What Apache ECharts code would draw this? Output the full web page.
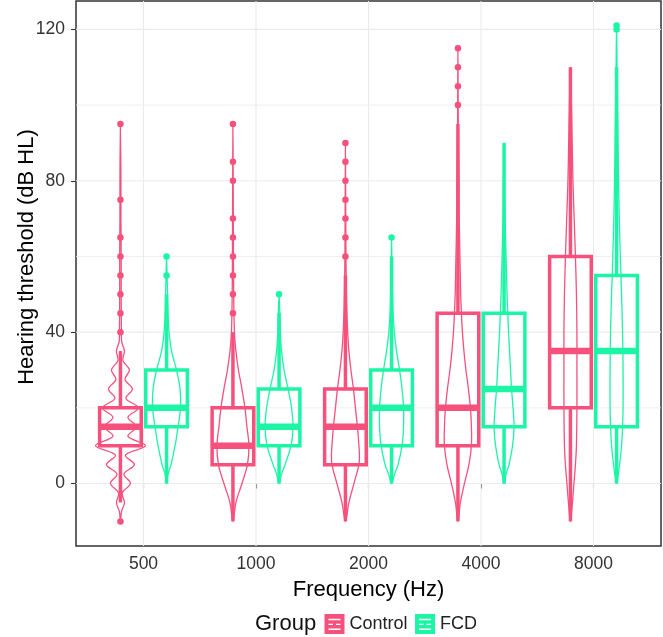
<!DOCTYPE html>
<html>
<head>
<meta charset="utf-8">
<script src="https://cdn.jsdelivr.net/npm/echarts@6/dist/echarts.min.js"></script>
<style>html,body{margin:0;padding:0;background:#fff}#c{width:663px;height:637px}</style>
</head>
<body>
<div id="c"></div>
<script>
// ---------- data ----------
const FREQS = ['500', '1000', '2000', '4000', '8000'];
const GROUPS = ['Control', 'FCD'];

// box stats: [lower whisker, Q1, median, Q3, upper whisker]
const CONTROL_BOX = [[-5, 10, 15, 20, 35], [-10, 5, 10, 20, 40], [-10, 5, 15, 25, 55], [-10, 10, 20, 45, 95], [-10, 20, 35, 60, 110]];
const FCD_BOX = [[0, 15, 20, 30, 50], [0, 10, 15, 25, 45], [0, 10, 20, 30, 60], [0, 15, 25, 45, 90], [0, 15, 35, 55, 110]];

const CONTROL_OUTLIERS = [[-10, 40, 45, 50, 55, 60, 65, 75, 95], [45, 50, 55, 60, 65, 70, 80, 85, 95], [60, 65, 70, 75, 80, 85, 90], [100, 105, 110, 115], []];
const FCD_OUTLIERS = [[55, 60], [50], [65], [], [120, 121]];

// violin outlines: [threshold dB, relative density]
const CONTROL_VIOLIN = [
  [[-10,0],[-7.5,0.04],[-5,0.16],[-2.5,0.07],[0,0.4],[2.5,0.14],[5,0.56],[7.5,0.2],[10,1],[12.5,0.3],[15,0.64],[17.5,0.3],[20,0.72],[22.5,0.22],[25,0.48],[27.5,0.18],[30,0.36],[32.5,0.1],[35,0.16],[37.5,0.05],[40,0.04],[50,0.03],[60,0.03],[70,0.02],[80,0.02],[95,0]],
  [[-10,0],[-5,0.12],[0,0.36],[5,0.58],[10,0.64],[15,0.56],[20,0.48],[25,0.36],[30,0.22],[35,0.12],[40,0.06],[50,0.03],[60,0.02],[70,0.015],[80,0.01],[95,0]],
  [[-10,0],[-5,0.14],[0,0.34],[5,0.54],[7.5,0.56],[10,0.54],[15,0.48],[20,0.4],[25,0.32],[30,0.22],[35,0.14],[40,0.09],[45,0.06],[50,0.04],[55,0.03],[60,0.02],[75,0.01],[90,0]],
  [[-10,0],[-5,0.1],[0,0.26],[5,0.44],[10,0.54],[15,0.54],[20,0.5],[25,0.42],[30,0.32],[35,0.24],[40,0.18],[45,0.14],[50,0.11],[60,0.08],[70,0.05],[80,0.04],[90,0.02],[100,0.01],[115,0]],
  [[-10,0],[-5,0.08],[0,0.14],[5,0.2],[10,0.24],[20,0.26],[30,0.26],[40,0.26],[50,0.24],[60,0.2],[70,0.15],[80,0.1],[90,0.07],[100,0.04],[110,0]]
];
const FCD_VIOLIN = [
  [[0,0],[2.5,0.06],[5,0.18],[10,0.34],[15,0.46],[20,0.56],[25,0.54],[30,0.4],[35,0.2],[40,0.1],[45,0.06],[50,0.04],[55,0.02],[60,0]],
  [[0,0],[2.5,0.1],[5,0.24],[10,0.48],[15,0.56],[20,0.5],[25,0.36],[30,0.2],[35,0.1],[40,0.05],[45,0.03],[50,0]],
  [[0,0],[2.5,0.12],[5,0.26],[10,0.42],[15,0.48],[20,0.48],[25,0.42],[30,0.32],[35,0.2],[40,0.11],[45,0.06],[50,0.04],[55,0.02],[60,0.01],[65,0]],
  [[0,0],[2.5,0.08],[5,0.2],[10,0.34],[15,0.4],[20,0.36],[25,0.3],[30,0.26],[35,0.22],[40,0.18],[45,0.15],[50,0.12],[60,0.08],[70,0.04],[80,0.02],[90,0]],
  [[0,0],[5,0.12],[10,0.2],[15,0.24],[20,0.26],[30,0.26],[40,0.24],[50,0.2],[60,0.15],[70,0.11],[80,0.08],[90,0.06],[100,0.04],[110,0.02],[121,0]]
];

const Y_MAJOR = [0, 40, 80, 120];
const Y_MINOR = [20, 60, 100];

// ---------- styling / layout constants ----------
const COLORS = { Control: '#F6517C', FCD: '#1CF4A6' };
const DODGE = 0.205;       // category units
const BOX_HALF = 0.185;    // category units
const VIOLIN_HALF = 0.222; // category units at density 1
const FONT = "'Liberation Sans', Arial, Helvetica, sans-serif";

function makeRender(boxes, violins, color) {
  return function (params, api) {
    const i = params.dataIndex;
    const cx = api.value(0);
    const unit = api.size([1, 0])[0];
    const center = api.coord([cx, 0])[0];
    const Y = v => api.coord([cx, v])[1];
    const vMax = VIOLIN_HALF * unit;
    const hb = BOX_HALF * unit;
    const vio = violins[i];
    const pts = [];
    vio.forEach(p => pts.push([center + p[1] * vMax, Y(p[0])]));
    for (let k = vio.length - 1; k >= 0; k--) {
      if (vio[k][1] > 0) pts.push([center - vio[k][1] * vMax, Y(vio[k][0])]);
    }
    const b = boxes[i];
    return {
      type: 'group',
      children: [
        { type: 'polygon', shape: { points: pts, smooth: 0.35 }, style: { fill: 'none', stroke: color, lineWidth: 1.3 } },
        { type: 'line', shape: { x1: center, y1: Y(b[3]), x2: center, y2: Y(b[4]) }, style: { stroke: color, lineWidth: 3.5 } },
        { type: 'line', shape: { x1: center, y1: Y(b[1]), x2: center, y2: Y(b[0]) }, style: { stroke: color, lineWidth: 3.5 } },
        { type: 'rect', shape: { x: center - hb, y: Y(b[3]), width: 2 * hb, height: Y(b[1]) - Y(b[3]) }, style: { fill: 'none', stroke: color, lineWidth: 3.5 } },
        { type: 'line', shape: { x1: center - hb, y1: Y(b[2]), x2: center + hb, y2: Y(b[2]) }, style: { stroke: color, lineWidth: 6.5 } }
      ]
    };
  };
}

function gridRender(horizontal) {
  return function (params, api) {
    const cs = params.coordSys;
    const v = api.value(0);
    const w = api.value(1);
    if (horizontal) {
      const y = api.coord([1, v])[1];
      return { type: 'line', shape: { x1: cs.x, y1: y, x2: cs.x + cs.width, y2: y }, style: { stroke: '#EBEBEB', lineWidth: w } };
    }
    const x = api.coord([v, 0])[0];
    return { type: 'line', shape: { x1: x, y1: cs.y, x2: x, y2: cs.y + cs.height }, style: { stroke: '#EBEBEB', lineWidth: w } };
  };
}

const series = [
  { type: 'custom', name: '_hgrid', silent: true, z: 1, renderItem: gridRender(true),
    data: Y_MAJOR.map(v => [v, 1.1]).concat(Y_MINOR.map(v => [v, 0.8])) },
  { type: 'custom', name: '_vgrid', silent: true, z: 1, renderItem: gridRender(false),
    data: FREQS.map((f, i) => [i + 1, 1.1]) }
];

[[CONTROL_BOX, CONTROL_VIOLIN, CONTROL_OUTLIERS, -DODGE, 'Control'], [FCD_BOX, FCD_VIOLIN, FCD_OUTLIERS, DODGE, 'FCD']].forEach(g => {
  const [boxes, violins, outs, off, name] = g;
  series.push({
    type: 'custom', name, z: 3, silent: true,
    itemStyle: { color: COLORS[name] },
    renderItem: makeRender(boxes, violins, COLORS[name]),
    data: boxes.map((b, i) => [i + 1 + off, b[2]])
  });
  const pts = [];
  outs.forEach((list, i) => list.forEach(v => pts.push([i + 1 + off, v])));
  series.push({
    type: 'scatter', name, z: 4, silent: true, symbol: 'circle', symbolSize: 6.5,
    itemStyle: { color: COLORS[name], opacity: 1 }, data: pts
  });
});

const KEY_ICON = 'path://M0,0 H20 V20 H0 Z M4,4.8 V6.2 H16 V4.8 Z M4,9.7 V11.1 H8.5 V9.7 Z M11.5,9.7 V11.1 H16 V9.7 Z M4,14.5 V15.9 H16 V14.5 Z';

const chart = echarts.init(document.getElementById('c'), null, { renderer: 'canvas' });
chart.setOption({
  animation: false,
  backgroundColor: '#fff',
  textStyle: { fontFamily: FONT },
  grid: { left: 76, right: 2, top: 1, bottom: 91, show: true, borderColor: '#333', borderWidth: 1.5, backgroundColor: 'transparent', containLabel: false },
  xAxis: {
    type: 'value', min: 0.4, max: 5.6,
    axisLine: { show: false },
    axisTick: { show: true, length: 5, customValues: [1, 2, 3, 4, 5], lineStyle: { color: '#333', width: 1.1 } },
    axisLabel: { customValues: [1, 2, 3, 4, 5], formatter: v => FREQS[Math.round(v) - 1], fontSize: 17.5, color: '#333', margin: 9, fontFamily: FONT },
    splitLine: { show: false },
    name: 'Frequency (Hz)', nameLocation: 'middle', nameGap: 33,
    nameTextStyle: { fontSize: 22, color: '#000', fontFamily: FONT }
  },
  yAxis: {
    type: 'value', min: -16.5, max: 127.5,
    axisLine: { show: false },
    axisTick: { show: true, length: 5, customValues: Y_MAJOR, lineStyle: { color: '#333', width: 1.1 } },
    axisLabel: { customValues: Y_MAJOR, fontSize: 17.5, color: '#333', margin: 11, fontFamily: FONT },
    splitLine: { show: false }
  },
  legend: {
    left: 324.5, top: 614, padding: 0, itemWidth: 20, itemHeight: 20, itemGap: 7.5,
    selectedMode: false,
    textStyle: { fontSize: 18, color: '#222', fontFamily: FONT },
    data: GROUPS.map(n => ({ name: n, icon: KEY_ICON, itemStyle: { color: COLORS[n] } }))
  },
  graphic: [
    { type: 'text', x: 255, y: 624, style: { text: 'Group', fontSize: 22, fontFamily: FONT, fill: '#111', align: 'left', verticalAlign: 'middle' } },
    { type: 'text', x: 27, y: 257, rotation: Math.PI / 2, style: { text: 'Hearing threshold (dB HL)', fontSize: 22, fontFamily: FONT, fill: '#000', align: 'center', verticalAlign: 'middle' } }
  ],
  series
});
</script>
</body>
</html>
